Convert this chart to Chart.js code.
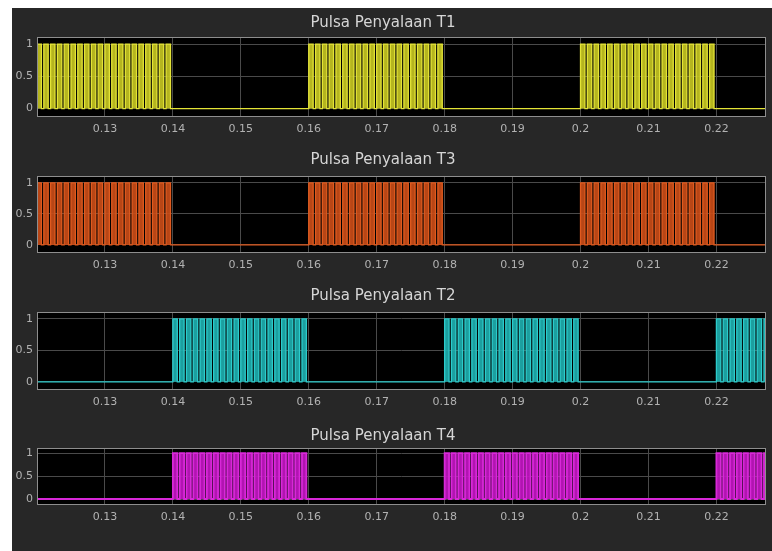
<!DOCTYPE html>
<html>
<head>
<meta charset="utf-8">
<title>Pulsa Penyalaan</title>
<script src="https://cdn.jsdelivr.net/npm/chart.js@4/dist/chart.umd.min.js"></script>
<style>
  html, body { margin: 0; padding: 0; background: #ffffff; }
  #stage { position: relative; width: 772px; height: 551px; overflow: hidden; background: #ffffff; }
  #panel { position: absolute; left: 12px; top: 8px; right: 0; bottom: 0; background: #272727; }
  #stage canvas { position: absolute; left: 0; }
</style>
</head>
<body>
<div id="stage">
  <div id="panel"></div>
  <canvas id="gateT1"></canvas>
  <canvas id="gateT3"></canvas>
  <canvas id="gateT2"></canvas>
  <canvas id="gateT4"></canvas>
</div>
<script>
// Gate pulse schedule: rising-edge times of each carrier pulse, in milliseconds
const pulseStartsT1 = [
  120, 121, 122, 123, 124, 125, 126, 127, 128, 129, 130, 131, 132, 133, 134, 135, 136, 137, 138, 139,
  160, 161, 162, 163, 164, 165, 166, 167, 168, 169, 170, 171, 172, 173, 174, 175, 176, 177, 178, 179,
  200, 201, 202, 203, 204, 205, 206, 207, 208, 209, 210, 211, 212, 213, 214, 215, 216, 217, 218, 219
];
const pulseStartsT3 = [
  120, 121, 122, 123, 124, 125, 126, 127, 128, 129, 130, 131, 132, 133, 134, 135, 136, 137, 138, 139,
  160, 161, 162, 163, 164, 165, 166, 167, 168, 169, 170, 171, 172, 173, 174, 175, 176, 177, 178, 179,
  200, 201, 202, 203, 204, 205, 206, 207, 208, 209, 210, 211, 212, 213, 214, 215, 216, 217, 218, 219
];
const pulseStartsT2 = [
  140, 141, 142, 143, 144, 145, 146, 147, 148, 149, 150, 151, 152, 153, 154, 155, 156, 157, 158, 159,
  180, 181, 182, 183, 184, 185, 186, 187, 188, 189, 190, 191, 192, 193, 194, 195, 196, 197, 198, 199,
  220, 221, 222, 223, 224, 225, 226, 227
];
const pulseStartsT4 = [
  140, 141, 142, 143, 144, 145, 146, 147, 148, 149, 150, 151, 152, 153, 154, 155, 156, 157, 158, 159,
  180, 181, 182, 183, 184, 185, 186, 187, 188, 189, 190, 191, 192, 193, 194, 195, 196, 197, 198, 199,
  220, 221, 222, 223, 224, 225, 226, 227
];
// pulse high time (ms) and logic levels
const pulseWidthMs = 0.65;
const levelHigh = 1;
const levelLow = 0;

const gateTitles = ['Pulsa Penyalaan T1', 'Pulsa Penyalaan T3', 'Pulsa Penyalaan T2', 'Pulsa Penyalaan T4'];
const gateSchedules = [pulseStartsT1, pulseStartsT3, pulseStartsT2, pulseStartsT4];

// axes
const xLimits = [0.12, 0.2273];
const yLimits = [-0.13, 1.11];
const xTickValues = [0.13, 0.14, 0.15, 0.16, 0.17, 0.18, 0.19, 0.2, 0.21, 0.22];
const yTickValues = [0, 0.5, 1];

// styling per panel
const canvasIds = ['gateT1', 'gateT3', 'gateT2', 'gateT4'];
const lineColors = ['#e4e436', '#e05a1e', '#2ccccc', '#d828d8'];
const fillColors = ['rgba(196,196,34,0.92)', 'rgba(200,76,24,0.92)', 'rgba(30,172,172,0.92)', 'rgba(192,22,192,0.92)'];
const lineWidths = [1.3, 1.3, 1.3, 1.8];
const panelBoxes = [
  { titleY: 23,  top: 37,  bottom: 117 },
  { titleY: 160, top: 176, bottom: 253 },
  { titleY: 296, top: 312, bottom: 390 },
  { titleY: 436, top: 448, bottom: 505 }
];

const STAGE_W = 772;
const PLOT_LEFT = 37;
const PLOT_RIGHT = 766;
const TITLE_LINE = 16;
const XAXIS_H = 24;

// square-wave trace built from the rising edges, kept inside the time window
function pulseTrace(starts) {
  const tEnd = xLimits[1];
  const pts = [{ x: xLimits[0], y: levelLow }];
  starts.forEach(ms => {
    const t0 = ms / 1000;
    if (t0 >= tEnd) return;
    const t1 = Math.min((ms + pulseWidthMs) / 1000, tEnd);
    pts.push({ x: t0, y: levelLow }, { x: t0, y: levelHigh }, { x: t1, y: levelHigh });
    if (t1 < tEnd) pts.push({ x: t1, y: levelLow });
  });
  const last = pts[pts.length - 1];
  if (last.x < tEnd) pts.push({ x: tEnd, y: levelLow });
  return pts;
}

const fmt = v => String(Number(Number(v).toFixed(4)));

// black plot area and light frame around it
const axesBox = {
  id: 'axesBox',
  beforeDraw(chart) {
    const a = chart.chartArea, ctx = chart.ctx;
    ctx.save();
    ctx.fillStyle = '#000000';
    ctx.fillRect(a.left, a.top, a.right - a.left, a.bottom - a.top);
    ctx.restore();
  },
  afterDatasetsDraw(chart) {
    const a = chart.chartArea, ctx = chart.ctx;
    ctx.save();
    ctx.strokeStyle = '#8e8e8e';
    ctx.lineWidth = 1;
    ctx.strokeRect(Math.round(a.left) + 0.5, Math.round(a.top) + 0.5,
                   Math.round(a.right - a.left) - 1, Math.round(a.bottom - a.top) - 1);
    ctx.restore();
  }
};

panelBoxes.forEach((box, i) => {
  const canvas = document.getElementById(canvasIds[i]);
  const cTop = box.titleY - TITLE_LINE / 2;
  const cHeight = box.bottom + XAXIS_H - cTop;
  canvas.width = STAGE_W;
  canvas.height = cHeight;
  canvas.style.top = cTop + 'px';
  canvas.style.width = STAGE_W + 'px';
  canvas.style.height = cHeight + 'px';

  new Chart(canvas, {
    type: 'line',
    data: {
      datasets: [{
        label: gateTitles[i],
        data: pulseTrace(gateSchedules[i]),
        borderColor: lineColors[i],
        backgroundColor: fillColors[i],
        borderWidth: lineWidths[i],
        fill: 'origin',
        pointRadius: 0,
        tension: 0
      }]
    },
    options: {
      responsive: false,
      animation: false,
      devicePixelRatio: 1,
      events: [],
      layout: { padding: { left: 0, right: STAGE_W - PLOT_RIGHT, top: 0, bottom: 0 } },
      plugins: {
        legend: { display: false },
        tooltip: { enabled: false },
        title: {
          display: true,
          text: gateTitles[i],
          color: '#d6d6d6',
          font: { family: 'DejaVu Sans', size: 15, weight: 'normal', lineHeight: TITLE_LINE + 'px' },
          padding: { top: 0, bottom: box.top - (box.titleY + TITLE_LINE / 2) }
        }
      },
      scales: {
        x: {
          type: 'linear',
          min: xLimits[0],
          max: xLimits[1],
          afterBuildTicks: s => { s.ticks = xTickValues.map(v => ({ value: v })); },
          afterFit: s => { s.height = XAXIS_H; },
          grid: { color: '#4a4a4a', lineWidth: 1, drawTicks: false },
          border: { display: false },
          ticks: {
            color: '#b2b2b2',
            font: { family: 'DejaVu Sans', size: 11 },
            padding: 6,
            maxRotation: 0,
            autoSkip: false,
            callback: v => fmt(v)
          }
        },
        y: {
          type: 'linear',
          min: yLimits[0],
          max: yLimits[1],
          afterBuildTicks: s => { s.ticks = yTickValues.map(v => ({ value: v })); },
          afterFit: s => { s.width = PLOT_LEFT; },
          grid: { color: '#4a4a4a', lineWidth: 1, drawTicks: false },
          border: { display: false },
          ticks: {
            color: '#b2b2b2',
            font: { family: 'DejaVu Sans', size: 11 },
            padding: 4,
            autoSkip: false,
            callback: v => fmt(v)
          }
        }
      }
    },
    plugins: [axesBox]
  });
});
</script>
</body>
</html>
